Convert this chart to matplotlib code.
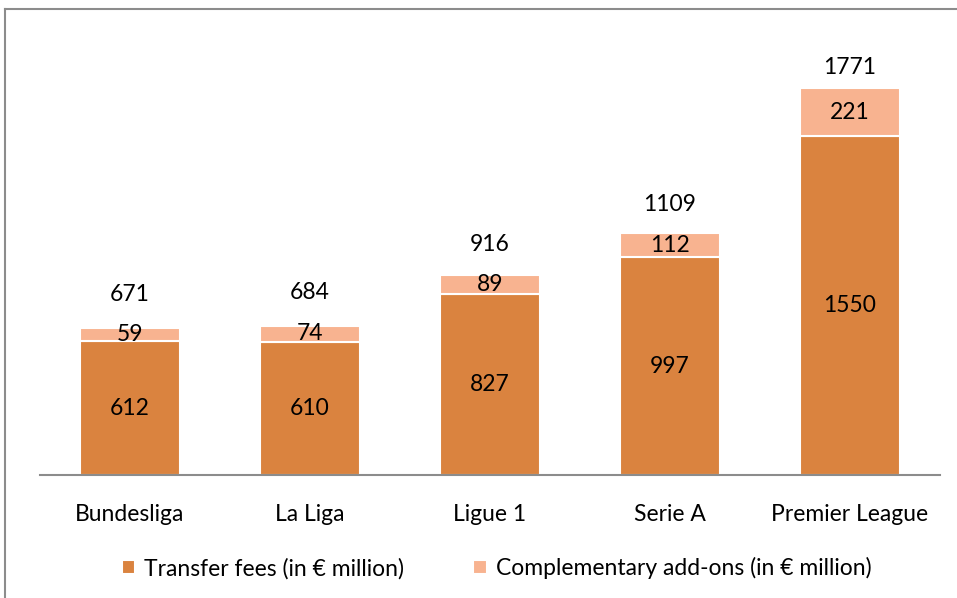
import matplotlib.pyplot as plt
from matplotlib.lines import Line2D
import numpy as np

plt.rcParams['font.family'] = ['Lato', 'DejaVu Sans']

## Data
leagues = ["Bundesliga", "La Liga", "Ligue 1", "Serie A", "Premier League"]
fees = [612, 610, 827, 997, 1550]
addons = [59, 74, 89, 112, 221]
totals = [671, 684, 916, 1109, 1771]

DARK = "#DA833F"
LIGHT = "#F8B390"
FS = 16.5

fig = plt.figure(figsize=(9.57, 5.98), dpi=100)
ax = fig.add_axes([0.0418, 0.2057, 0.9404, 0.744])

x = np.arange(len(leagues))
b1 = ax.bar(x, fees, width=0.56, color=DARK, edgecolor="white", linewidth=1.5,
            label="Transfer fees (in \u20ac million)", zorder=2)
b2 = ax.bar(x, addons, width=0.56, bottom=fees, color=LIGHT, edgecolor="white",
            linewidth=1.5, label="Complementary add-ons (in \u20ac million)", zorder=2)

for i in range(len(leagues)):
    ax.text(x[i], fees[i] / 2, str(fees[i]), ha="center", va="center", fontsize=FS)
    ax.text(x[i], fees[i] + addons[i] / 2, str(addons[i]), ha="center", va="center", fontsize=FS)
    # totals sit above the stack (label spacing)
    ax.text(x[i], totals[i] * 0.945 + 190, str(totals[i]), ha="center", va="center", fontsize=FS)

ax.set_xlim(-0.5, 4.5)
ax.set_ylim(0, 2037)
ax.set_yticks([])
ax.set_xticks(x)
ax.set_xticklabels(leagues, fontsize=FS)
ax.tick_params(axis="x", length=0, pad=21)
for s in ["top", "right", "left"]:
    ax.spines[s].set_visible(False)
ax.spines["bottom"].set_color("#8C8C8C")
ax.spines["bottom"].set_linewidth(1.5)

fig.legend(handles=[b1, b2], loc="center", bbox_to_anchor=(0.519, 0.05), ncol=2,
           frameon=False, fontsize=FS, handlelength=0.6, handleheight=0.6,
           handletextpad=0.4, columnspacing=3.0)

# outer chart frame (left and top edges visible)
fig.add_artist(Line2D([5 / 957, 5 / 957], [0, 1 - 9 / 598], transform=fig.transFigure,
                      color="#8C8C8C", linewidth=1.5))
fig.add_artist(Line2D([5 / 957, 1], [1 - 9 / 598, 1 - 9 / 598], transform=fig.transFigure,
                      color="#8C8C8C", linewidth=1.5))

fig.savefig("out.png", dpi=100)
